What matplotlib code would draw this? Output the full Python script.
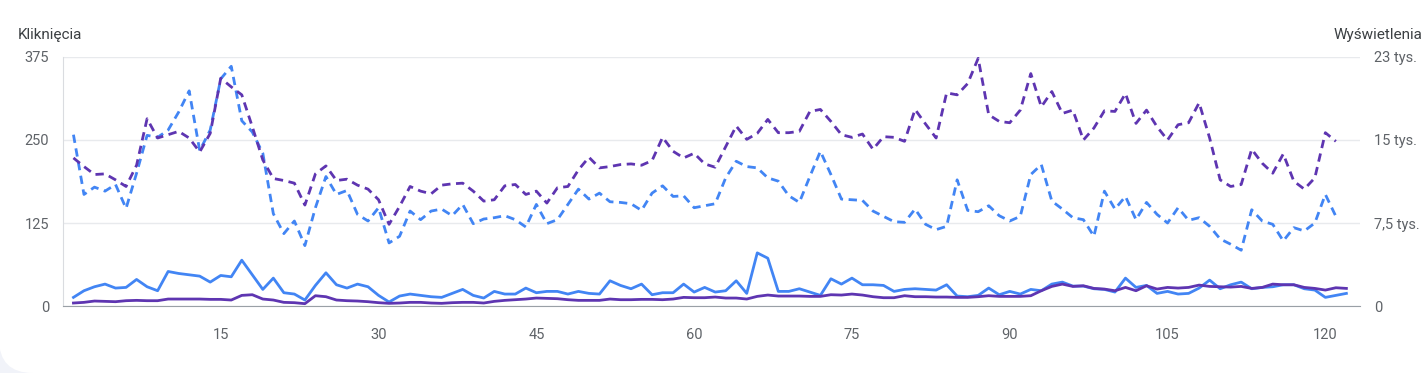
import numpy as np
import matplotlib.pyplot as plt
from matplotlib.ticker import FixedLocator
from matplotlib.patches import FancyBboxPatch

# data (daily values)
clicks = [13, 23, 29, 33, 27, 28, 40, 29, 23, 52, 49, 47, 45, 36, 46, 44, 69, 47, 25, 42,
          20, 18, 9, 31, 50, 32, 27, 33, 29, 16, 6, 15, 18, 16, 14, 13, 19, 25, 16, 12,
          22, 18, 18, 27, 20, 22, 22, 18, 22, 19, 18, 38, 31, 26, 33, 17, 20, 20, 33, 21,
          28, 21, 23, 38, 19, 80, 72, 22, 22, 26, 21, 16, 41, 33, 42, 32, 32, 31, 22, 25,
          26, 25, 24, 32, 15, 14, 16, 27, 17, 22, 18, 25, 23, 33, 36, 30, 30, 26, 25, 21,
          42, 28, 31, 19, 22, 18, 19, 27, 39, 26, 32, 36, 26, 28, 29, 32, 32, 26, 24, 13,
          16, 19]
impressions = [270, 330, 450, 420, 390, 480, 510, 480, 480, 630, 630, 630, 630, 600, 600, 540, 960, 1020, 630, 540,
               330, 300, 210, 930, 840, 540, 480, 450, 390, 300, 240, 270, 330, 330, 270, 240, 300, 330, 330, 270,
               420, 510, 570, 630, 720, 690, 660, 570, 510, 510, 510, 630, 570, 570, 600, 600, 570, 630, 780, 750,
               750, 810, 720, 720, 630, 870, 990, 900, 900, 900, 870, 870, 1020, 990, 1080, 990, 840, 750, 750, 930,
               840, 840, 810, 810, 780, 780, 840, 930, 870, 870, 870, 930, 1380, 1770, 1980, 1770, 1830, 1590, 1530, 1380,
               1680, 1380, 1830, 1530, 1680, 1620, 1680, 1890, 1770, 1740, 1710, 1770, 1590, 1680, 1980, 1920, 1920, 1680, 1590, 1440,
               1650, 1590]
clicks_prev = [258, 168, 179, 173, 183, 147, 200, 257, 254, 265, 292, 324, 234, 265, 342, 361, 279, 262, 230, 139,
               109, 128, 91, 148, 195, 168, 174, 138, 128, 148, 95, 105, 143, 130, 143, 146, 136, 153, 124, 131,
               133, 136, 130, 119, 153, 124, 130, 153, 176, 161, 170, 157, 156, 154, 144, 170, 181, 165, 166, 148,
               151, 154, 193, 218, 210, 208, 193, 188, 166, 156, 195, 233, 198, 161, 160, 159, 143, 135, 127, 126,
               146, 123, 115, 120, 190, 144, 142, 151, 136, 128, 135, 198, 213, 158, 146, 133, 130, 105, 173, 146,
               165, 130, 156, 138, 125, 148, 129, 133, 120, 101, 93, 84, 145, 128, 123, 98, 118, 113, 125, 168,
               135]
impressions_prev = [13380, 12600, 11880, 11940, 11400, 10800, 12720, 16920, 15180, 15480,
                    15780, 15180, 13920, 15600, 20580, 19800, 19080, 16200, 13200, 11520,
                    11340, 11100, 9120, 11940, 12660, 11340, 11460, 10920, 10560, 9600,
                    7380, 9000, 10800, 10380, 10140, 10920, 11040, 11100, 10380, 9480,
                    9600, 10860, 10980, 10080, 10380, 9300, 10680, 10800, 12300, 13440,
                    12480, 12600, 12780, 12840, 12720, 13140, 15240, 13980, 13380, 13800,
                    12840, 12540, 14400, 16260, 15060, 15600, 16860, 15660, 15660, 15780,
                    17580, 17760, 16680, 15480, 15240, 15540, 14160, 15300, 15240, 14880,
                    17760, 16440, 15180, 19260, 19080, 20100, 22380, 17280, 16680, 16560,
                    17700, 21000, 18000, 19380, 17400, 17700, 15000, 16080, 17640, 17580,
                    19200, 16500, 17700, 16200, 15000, 16380, 16560, 18360, 15180, 11400,
                    10800, 10980, 14160, 12900, 12000, 13740, 11280, 10560, 11580, 15660,
                    14880]

x_ticks = [15, 30, 45, 60, 75, 90, 105, 120]
left_ticks = [0, 125, 250, 375]
right_ticks = [0, 7500, 15000, 22500]
right_labels = ['0', '7,5 tys.', '15 tys.', '23 tys.']

BLUE = '#4285f4'
PURPLE = '#5e35b1'
GREY = '#5f6368'

plt.rcParams['font.family'] = ['Roboto', 'DejaVu Sans']

fig = plt.figure(figsize=(14.27, 3.73), dpi=100)
fig.patch.set_facecolor('#f1f3f9')
# white card, only its rounded lower-left corner shows
card = FancyBboxPatch((-1, 0), 1480, 460, boxstyle='round,pad=0,rounding_size=34',
                      transform=None, facecolor='white', edgecolor='none', zorder=-10)
fig.patches.append(card)

ax = fig.add_axes([0.0441, 0.1796, 0.9090, 0.6676])
ax.set_facecolor('none')
ax2 = ax.twinx()

days = np.arange(1, len(clicks) + 1)
days_prev = np.arange(1, len(clicks_prev) + 1)

ax.plot(days_prev, clicks_prev, color=BLUE, lw=2.0, ls=(0, (3, 2)))
ax.plot(days, clicks, color=BLUE, lw=2.0)
ax2.plot(days_prev, impressions_prev, color=PURPLE, lw=2.0, ls=(0, (3, 2)))
ax2.plot(days, impressions, color=PURPLE, lw=2.0)

ax.set_xlim(0, 123.3)
ax.set_ylim(0, 375)
ax2.set_ylim(0, 22500)

ax.xaxis.set_major_locator(FixedLocator(x_ticks))
ax.yaxis.set_major_locator(FixedLocator(left_ticks))
ax2.yaxis.set_major_locator(FixedLocator(right_ticks))
ax2.set_yticklabels(right_labels)

ax.grid(axis='y', color='#e8eaed', lw=1)
ax.set_axisbelow(True)
for a in (ax, ax2):
    for s in a.spines.values():
        s.set_visible(False)
ax.spines['bottom'].set_visible(True)
ax.spines['bottom'].set_color('#9aa0a6')
ax.spines['left'].set_visible(True)
ax.spines['left'].set_color('#dadce0')

ax.tick_params(axis='x', length=0, pad=16, labelsize=10.5, labelcolor=GREY)
ax.tick_params(axis='y', length=0, pad=10, labelsize=10.5, labelcolor=GREY)
ax2.tick_params(axis='y', length=0, pad=10, labelsize=10.5, labelcolor=GREY)

fig.text(0.0126, 0.905, 'Kliknięcia', fontsize=11, color='#3c4043', va='center')
fig.text(0.997, 0.905, 'Wyświetlenia', fontsize=11, color='#3c4043', va='center', ha='right')

fig.savefig('out.png', dpi=100, facecolor=fig.get_facecolor())
